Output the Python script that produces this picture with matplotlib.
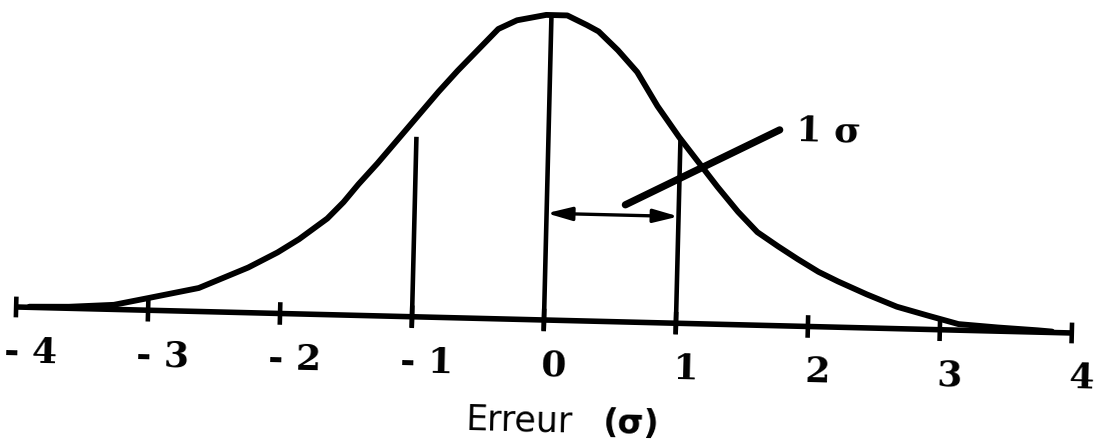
import matplotlib
matplotlib.use("Agg")
import matplotlib.pyplot as plt
from matplotlib.transforms import Affine2D
from matplotlib.patches import FancyArrowPatch

# Error (in units of sigma) and relative frequency of the bell curve
erreur = [-3.9, -3.6, -3.26, -3.0, -2.62, -2.25, -2.03, -1.87, -1.66, -1.54,
          -1.43, -1.29, -1.14, -0.99, -0.84, -0.70, -0.55, -0.40, -0.26, -0.04,
          0.12, 0.27, 0.36, 0.51, 0.66, 0.82, 0.99, 1.14, 1.29, 1.45,
          1.60, 1.76, 1.91, 2.07, 2.22, 2.44, 2.67, 2.91, 3.14, 3.44,
          3.74, 3.85]
frequence = [0.002, 0.005, 0.015, 0.04, 0.077, 0.148, 0.20, 0.245, 0.315, 0.37,
             0.43, 0.50, 0.58, 0.66, 0.74, 0.81, 0.88, 0.95, 0.98, 1.0,
             1.0, 0.97, 0.95, 0.89, 0.82, 0.71, 0.61, 0.53, 0.45, 0.37,
             0.305, 0.26, 0.22, 0.18, 0.15, 0.11, 0.072, 0.045, 0.02, 0.012,
             0.006, 0.003]

tick_values = [-4, -3, -2, -1, 0, 1, 2, 3, 4]
tick_labels = ["- 4", "- 3", "- 2", "- 1", "0", "1", "2", "3", "4"]

# Vertical markers at -1, 0 and +1 sigma
marker_x = [-1, 0, 1]
marker_top = [0.59, 1.0, 0.61]

# One-sigma span shown by the double arrow
sigma_span = [0, 1]
sigma_level = 0.35

fig = plt.figure(figsize=(10.94, 4.42), dpi=100)
ax = fig.add_axes([0, 0, 1, 1])
ax.set_xlim(-4.121, 4.167)
ax.set_ylim(-0.40, 1.049)
ax.axis("off")

# The whole drawing sits on a slightly slanted baseline
tilt = -1.41
cx, cy = ax.transData.transform((0, 0))
tr = ax.transData + Affine2D().rotate_deg_around(cx, cy, tilt)

ink = "black"

# Horizontal error axis with end bars and ticks
ax.plot([tick_values[0], tick_values[-1]], [0, 0], color=ink, lw=4.0,
        transform=tr, solid_capstyle="butt")
for v in tick_values:
    h = 0.034 if v in (tick_values[0], tick_values[-1]) else 0.037
    ax.plot([v, v], [-h, h], color=ink, lw=3.3, transform=tr,
            solid_capstyle="butt")

# Bell curve
ax.plot(erreur, frequence, color=ink, lw=4.2, transform=tr,
        solid_joinstyle="round", solid_capstyle="round")

# Vertical markers
for xm, top in zip(marker_x, marker_top):
    ax.plot([xm, xm], [-0.035, top], color=ink, lw=3.3, transform=tr,
            solid_capstyle="butt")

# Double arrow spanning one sigma
arrow = FancyArrowPatch((sigma_span[0], sigma_level), (sigma_span[1], sigma_level),
                        arrowstyle="<|-|>,head_length=1.5,head_width=0.4",
                        mutation_scale=10, lw=2.4, color=ink,
                        shrinkA=0, shrinkB=0, transform=tr)
ax.add_patch(arrow)

# Leader line to the "1 sigma" label
ax.plot([0.595, 1.75], [0.384, 0.642], color=ink, lw=5.2, transform=tr,
        solid_capstyle="round")
ax.text(1.877, 0.61, "1 σ", transform=tr, rotation=tilt, rotation_mode="anchor",
        ha="left", va="baseline", fontsize=26, fontweight="bold",
        family="DejaVu Serif", color=ink)

# Tick labels
for v, lab in zip(tick_values, tick_labels):
    off = 0.12 if v < 0 else 0.08
    ax.text(v + off, -0.182, lab, transform=tr, rotation=tilt,
            rotation_mode="anchor", ha="center", va="baseline",
            fontsize=26, fontweight="bold", family="DejaVu Serif", color=ink)

# Axis title
ax.text(-0.57, -0.366, "Erreur", transform=tr, rotation=tilt,
        rotation_mode="anchor", ha="left", va="baseline",
        fontsize=25, family="DejaVu Sans", color=ink)
ax.text(0.46, -0.366, "(σ)", transform=tr, rotation=tilt,
        rotation_mode="anchor", ha="left", va="baseline",
        fontsize=24, fontweight="bold", family="DejaVu Sans", color=ink)

fig.savefig("out.png", dpi=100, facecolor="white")
